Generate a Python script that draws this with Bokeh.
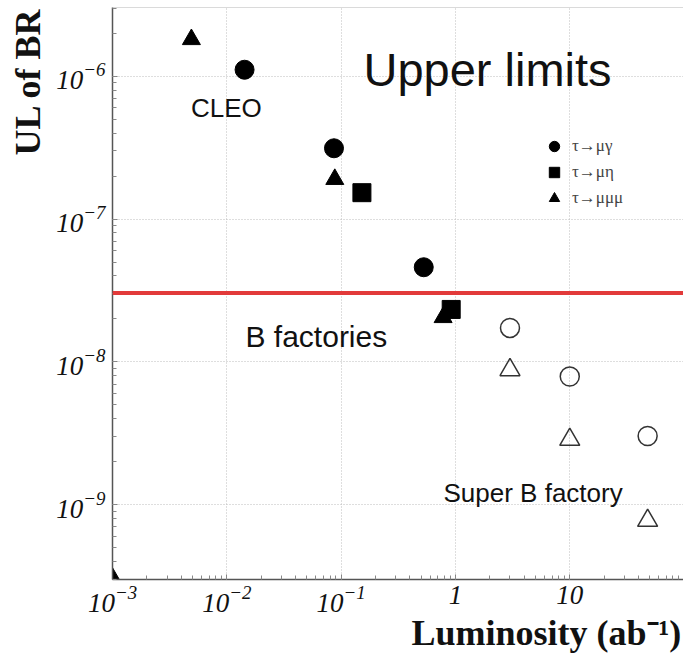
from bokeh.plotting import figure
from bokeh.models import (Label, Span, Legend, LegendItem, LogTicker, Range1d,
                          LogTickFormatter, Title)
from bokeh.embed import file_html
from bokeh.resources import INLINE

# ---------------- data ----------------
mugamma_lumi = [0.0143, 0.0866, 0.528]
mugamma_ul = [1.11e-6, 3.13e-7, 4.6e-8]
mueta_lumi = [0.152, 0.918]
mueta_ul = [1.53e-7, 2.33e-8]
mumumu_lumi = [0.0049, 0.088, 0.78]
mumumu_ul = [1.81e-6, 1.9e-7, 2.05e-8]
superb_mugamma_lumi = [3.0, 10.0, 48.0]
superb_mugamma_ul = [1.73e-8, 7.9e-9, 3.03e-9]
superb_mumumu_lumi = [3.0, 10.0, 48.0]
superb_mumumu_ul = [8.8e-9, 2.86e-9, 7.75e-10]
corner_lumi = [1.0e-3]
corner_ul = [3.1e-10]
bfactory_limit = 3.04e-8

legend_labels = ["τ→μγ", "τ→μη", "τ→μμμ"]
x_label_overrides = {1.0: "1", 10.0: "10"}
x_title = "Luminosity (ab⁻¹)"
y_title = "UL of BR"

X_START, X_END = 1e-3, 10 ** 1.995
Y_START, Y_END = 10 ** -9.523, 10 ** -5.519

SERIF = "Liberation Serif"
SANS = "Liberation Sans"

p = figure(width=683, height=658, x_axis_type="log", y_axis_type="log",
           x_range=Range1d(X_START, X_END), y_range=Range1d(Y_START, Y_END),
           output_backend="svg", toolbar_location=None,
           min_border_left=111, min_border_right=0, min_border_top=7,
           min_border_bottom=79)
p.outline_line_color = None
p.background_fill_color = "white"
p.border_fill_color = "white"

for ax in (p.xaxis[0], p.yaxis[0]):
    ax.formatter = LogTickFormatter()
    ax.major_label_text_font = SERIF
    ax.major_label_text_font_style = "italic"
    ax.major_label_text_font_size = "27px"
    ax.major_label_text_color = "#111111"
    ax.axis_line_color = "#555555"
    ax.axis_line_width = 1.5
    ax.major_tick_in = 5
    ax.major_tick_out = 0
    ax.minor_tick_in = 4
    ax.minor_tick_out = 0
    ax.major_tick_line_color = "#777777"
    ax.minor_tick_line_color = "#888888"
    ax.ticker = LogTicker(mantissas=[1], desired_num_ticks=6, num_minor_ticks=10)
p.xaxis[0].major_label_standoff = 6
p.yaxis[0].major_label_standoff = 7
p.xaxis[0].major_label_overrides = x_label_overrides

for g in (p.xgrid[0], p.ygrid[0]):
    g.grid_line_color = "#bdbdbd"
    g.grid_line_dash = "1 2"
    g.grid_line_width = 1
    g.ticker = LogTicker(mantissas=[1], desired_num_ticks=6)

p.add_layout(Title(text=y_title, align="right", text_font=SERIF,
                   text_font_style="bold", text_font_size="36px",
                   text_color="#111111", standoff=11, offset=0), "left")
p.add_layout(Title(text=x_title, align="left", text_font=SERIF,
                   text_font_style="bold", text_font_size="36px",
                   text_color="#111111", standoff=-8, offset=299), "below")

# top frame border
p.add_layout(Span(location=Y_END, dimension="width", line_color="#b5b5b5",
                  line_width=1.2))

# B-factory line
p.add_layout(Span(location=bfactory_limit, dimension="width",
                  line_color="#e23a3a", line_width=4))

# data marks
r_mg = p.scatter(mugamma_lumi, mugamma_ul, marker="circle", size=19,
                 fill_color="black", line_color="black")
r_me = p.scatter(mueta_lumi, mueta_ul, marker="square", size=18,
                 fill_color="black", line_color="black")
r_mmm = p.scatter(mumumu_lumi, mumumu_ul, marker="triangle", size=18,
                  fill_color="black", line_color="black")
p.scatter(corner_lumi, corner_ul, marker="triangle", size=17,
          fill_color="black", line_color="black")
p.scatter(superb_mugamma_lumi, superb_mugamma_ul, marker="circle", size=19,
          fill_color=None, line_color="#333333", line_width=1.5)
p.scatter(superb_mumumu_lumi, superb_mumumu_ul, marker="triangle", size=20,
          fill_color=None, line_color="#333333", line_width=1.5)

legend = Legend(items=[LegendItem(label=legend_labels[0], renderers=[r_mg]),
                       LegendItem(label=legend_labels[1], renderers=[r_me]),
                       LegendItem(label=legend_labels[2], renderers=[r_mmm])],
                location=(429, 368), glyph_width=26, glyph_height=26,
                label_height=26, spacing=0, padding=0, margin=0,
                border_line_color=None, background_fill_alpha=0,
                label_text_font=SERIF, label_text_font_size="17px",
                label_standoff=5)
p.add_layout(legend)

# annotations in the plot
def note(txt, dx, dy, size):
    p.add_layout(Label(x=X_START, y=Y_END, x_offset=dx, y_offset=-dy, text=txt,
                       text_font=SANS, text_font_size=size, text_align="left",
                       text_baseline="alphabetic", text_color="#111111"))

note("Upper limits", 251, 62.3, "47px")
note("CLEO", 78.5, 100.3, "26px")
note("B factories", 133, 328.7, "30px")
note("Super B factory", 331, 485.7, "26px")

open("out.html", "w").write(file_html(p, INLINE))
